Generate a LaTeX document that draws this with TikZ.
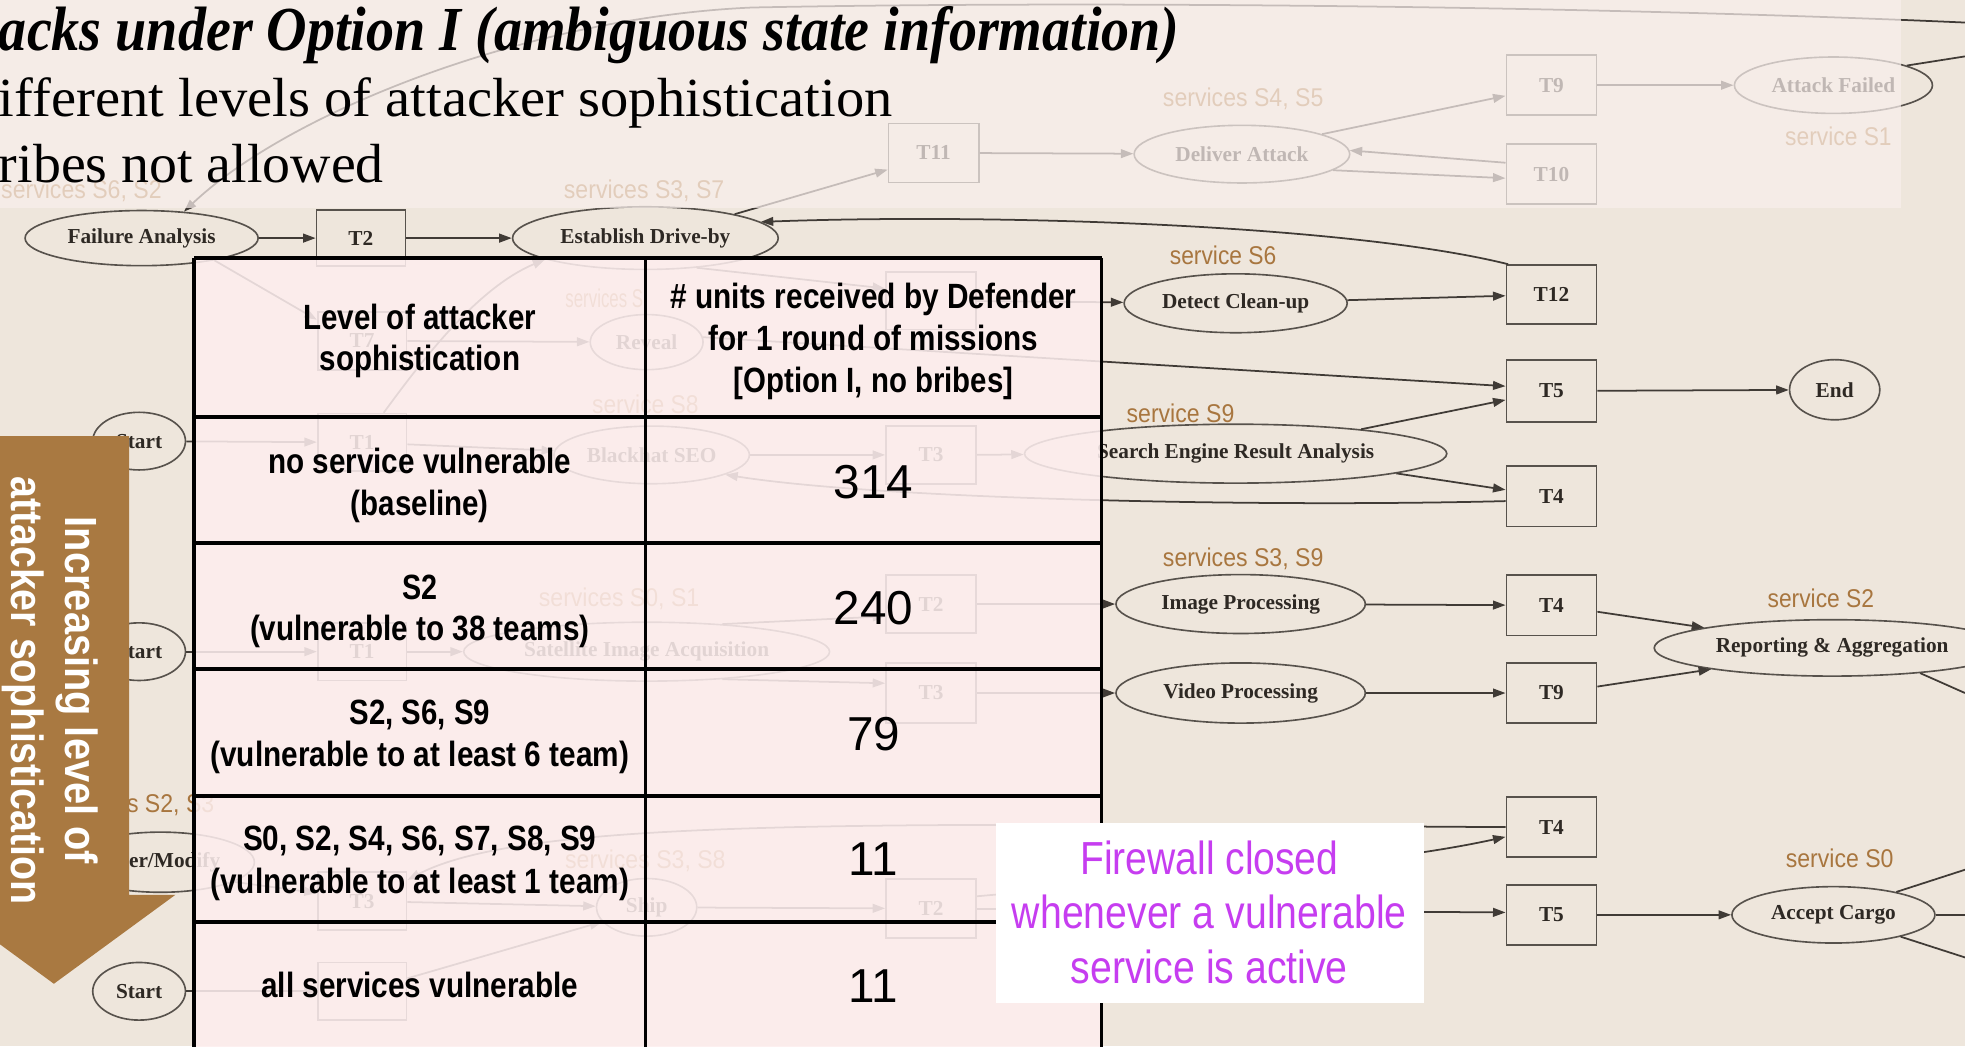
\documentclass[tikz,border=0pt]{standalone}
\usepackage{fontspec}
\usepackage{graphicx}
\setmainfont{Liberation Sans}
\newfontfamily\gserif{Liberation Serif}
\usetikzlibrary{shapes.geometric,arrows.meta}
\definecolor{bgbeige}{HTML}{EEE6DC}
\definecolor{toppink}{HTML}{F9EFEC}
\definecolor{cellpink}{HTML}{FDEEEE}
\definecolor{svcbrown}{HTML}{A8763F}
\definecolor{arrowbrown}{HTML}{A97941}
\definecolor{fwmag}{HTML}{C63DF0}
\definecolor{gline}{HTML}{403B36}
\definecolor{gborder}{HTML}{57524C}
\definecolor{gtext}{HTML}{2E2924}
\newcommand{\fw}[2]{\resizebox{#1pt}{\height}{#2}}
\tikzset{
 gn/.style={draw=gborder, line width=1.3pt, text=gtext, font=\gserif\bfseries\fontsize{17}{19}\selectfont, inner sep=0pt},
 ell/.style={gn, ellipse},
 tb/.style={gn, rectangle, minimum width=71pt, minimum height=47pt},
 ge/.style={draw=gline, line width=1.4pt, -{Triangle[length=10pt,width=7pt]}},
 gl/.style={draw=gline, line width=1.4pt},
 svc/.style={text=svcbrown, font=\fontsize{20.5}{22}\selectfont, inner sep=0pt, anchor=base},
 tabl/.style={font=\bfseries\fontsize{28}{32}\selectfont, inner sep=0pt, anchor=base},
 num/.style={font=\fontsize{38}{40}\selectfont, inner sep=0pt, anchor=base},
 fwt/.style={text=fwmag, font=\fontsize{37}{40}\selectfont, inner sep=0pt, anchor=base},
 ttl/.style={font=\gserif\fontsize{44}{48}\selectfont, inner sep=0pt, anchor=base west},
 arrtxt/.style={text=white, font=\bfseries\fontsize{36}{40}\selectfont, inner sep=0pt, anchor=base, rotate=-90},
 tabline/.style={line width=3pt, draw=black},
}
\begin{document}
\begin{tikzpicture}[x=1pt,y=-1pt]
\useasboundingbox (0,0) rectangle (1568,835);
\clip (0,0) rectangle (1568,835);
\fill[bgbeige] (0,0) rectangle (1568,835);

% ---------- background graph ----------
\node[ell, minimum width=186pt, minimum height=44pt] (fa) at (113,190) {Failure Analysis};
\node[tb, minimum height=45pt] (t2a) at (288,190) {T2};
\node[ell, minimum width=212pt, minimum height=50pt] (edb) at (515,190) {Establish Drive-by};
\node[tb, minimum width=72pt] (t11) at (745,122) {T11};
\node[ell, minimum width=172pt, minimum height=46pt] (da) at (991,123) {Deliver Attack};
\node[tb, minimum width=72pt, minimum height=48pt] (t9a) at (1238,68) {T9};
\node[tb, minimum width=72pt, minimum height=48pt] (t10) at (1238,139) {T10};
\node[ell, minimum width=158pt, minimum height=45pt] (af) at (1463,68) {Attack Failed};
\node[tb, minimum width=72pt] (t12) at (1238,235) {T12};
\node[ell, minimum width=178pt, minimum height=47pt] (dcu) at (986,242) {Detect Clean-up};
\node[tb, minimum width=72pt, minimum height=46pt] (t6) at (743,240) {};
\node[tb, minimum height=46pt] (t7) at (289,272) {T7};
\node[ell, minimum width=90pt, minimum height=44pt] (rev) at (516,273) {Reveal};
\node[tb, minimum width=72pt, minimum height=49pt] (t5a) at (1238,312) {T5};
\node[ell, minimum width=72pt, minimum height=48pt] (endn) at (1464,311) {End};
\node[ell, minimum width=74pt, minimum height=46pt] (st1) at (111,352) {Start};
\node[tb, minimum height=46pt] (t1a) at (289,353) {T1};
\node[ell, minimum width=156pt, minimum height=46pt] (bseo) at (520,363) {Blackhat SEO};
\node[tb, minimum width=72pt, minimum height=46pt] (t3a) at (743,363) {T3};
\node[ell, minimum width=337pt, minimum height=47pt] (sera) at (986,362) {Search Engine Result Analysis};
\node[tb, minimum width=72pt, minimum height=48pt] (t4a) at (1238,396) {T4};
\node[ell, minimum width=74pt, minimum height=46pt] (st2) at (111,520) {Start};
\node[tb, minimum height=46pt] (t1b) at (289,520) {T1};
\node[ell, minimum width=292pt, minimum height=47pt] (sia) at (516,520) {Satellite Image Acquisition};
\node[tb, minimum width=72pt, minimum height=46pt] (t2b) at (743,482) {T2};
\node[tb, minimum width=72pt, minimum height=48pt] (t3b) at (743,553) {T3};
\node[ell, minimum width=199pt, minimum height=47pt] (ip) at (990,482) {Image Processing};
\node[ell, minimum width=199pt, minimum height=48pt] (vp) at (990,553) {Video Processing};
\node[tb, minimum width=72pt, minimum height=48pt] (t4b) at (1238,483) {T4};
\node[tb, minimum width=72pt, minimum height=48pt] (t9b) at (1238,553) {T9};
\node[ell, minimum width=284pt, minimum height=45pt] (ra) at (1462,517) {Reporting \& Aggregation};
\node[ell, minimum width=150pt, minimum height=48pt] (am) at (128,688) {Alter/Modify};
\node[tb, minimum height=46pt] (t3c) at (289,719) {T3};
\node[ell, minimum width=80pt, minimum height=46pt] (ship) at (516,724) {Ship};
\node[tb, minimum width=72pt, minimum height=47pt] (t2c) at (743,725) {T2};
\node[tb, minimum width=72pt, minimum height=48pt] (t4c) at (1238,660) {T4};
\node[tb, minimum width=72pt, minimum height=48pt] (t5b) at (1238,730) {T5};
\node[ell, minimum width=162pt, minimum height=45pt] (ac) at (1463,730) {Accept Cargo};
\node[ell, minimum width=74pt, minimum height=46pt] (st3) at (111,791) {Start};
\node[tb, minimum height=46pt] (tx) at (289,791) {};

\coordinate (rtop) at (1568,18);
\coordinate (raf) at (1568,45);
\coordinate (rra) at (1568,553);
\coordinate (rac1) at (1568,694);
\coordinate (rac2) at (1568,730);
\coordinate (rac3) at (1568,764);

\draw[ge] (rtop) .. controls (1300,6) and (900,0) .. (600,6) .. controls (420,14) and (230,90) .. (fa.32);
\draw[ge] (fa) -- (t2a);
\draw[ge] (t2a) -- (edb);
\draw[ge] (edb.15) -- (t11.200);
\draw[ge] (t11) -- (da);
\draw[ge] (da.14) -- (t9a.193);
\draw[ge] (t10.166) -- (da.2);
\draw[ge] (da.-10) -- (t10.185);
\draw[ge] (t9a) -- (af);
\draw[gl] (af.15) -- (raf);
\draw[ge] (t12.145) .. controls (1080,180) and (800,170) .. (edb.8);
\draw[ge] (dcu) -- (t12);
\draw[ge] (t6) -- (dcu);
\draw[ge] (edb.-30) -- (t6.165);
\draw[ge] (fa.-17) -- (t7.155);
\draw[ge] (t7) -- (rev);
\draw[ge] (rev.5) -- (t5a.174);
\draw[ge] (st1) -- (t1a);
\draw[ge] (t1a) -- (bseo);
\draw[ge] (bseo) -- (t3a);
\draw[ge] (t3a) -- (sera);
\draw[ge] (sera.11) -- (t5a.191);
\draw[ge] (sera.-7) -- (t4a.172);
\draw[ge] (t4a.186) .. controls (1000,405) and (700,398) .. (bseo.-15);
\draw[ge] (t5a) -- (endn);
\draw[ge] (t1a.54) .. controls (335,290) and (380,230) .. (edb.192);
\draw[ge] (st2) -- (t1b);
\draw[ge] (t1b) -- (sia);
\draw[ge] (sia.20) -- (t2b.195);
\draw[ge] (sia.-20) -- (t3b.168);
\draw[ge] (t2b) -- (ip);
\draw[ge] (t3b) -- (vp);
\draw[ge] (ip) -- (t4b);
\draw[ge] (vp) -- (t9b);
\draw[ge] (t4b.-8) -- (ra.171);
\draw[ge] (t9b.8) -- (ra.190);
\draw[gl] (ra.-16) -- (rra);
\draw[ge] (am.-15) -- (t3c.170);
\draw[ge] (t3c) -- (ship);
\draw[ge] (ship) -- (t2c);
\draw[ge] (t2c) -- (t5b.177);
\draw[ge] (t2c.15) .. controls (950,700) and (1100,690) .. (t4c.192);
\draw[ge] (t4c.180) .. controls (700,657) and (420,652) .. (t3c.25);
\draw[ge] (t5b) -- (ac);
\draw[gl] (ac.20) -- (rac1);
\draw[gl] (ac.0) -- (rac2);
\draw[gl] (ac.-18) -- (rac3);
\draw[ge] (st3) -- (tx);
\draw[ge] (tx.16) -- (ship.198);

% service labels
\node[svc] (sv1) at (65,158) {\fw{128}{services S6, S2}};
\node[svc] (sv2) at (514,158) {\fw{128}{services S3, S7}};
\node[svc] (sv3) at (992,85) {\fw{128}{services S4, S5}};
\node[svc] (sv4) at (1467,116) {\fw{85}{service S1}};
\node[svc] (sv5) at (976,211) {\fw{85}{service S6}};
\node[svc, anchor=base west] (sv6) at (451,245) {\fw{62}{services S}};
\node[svc] (sv7) at (515,330) {\fw{85}{service S8}};
\node[svc] (sv8) at (942,337) {\fw{86}{service S9}};
\node[svc] (sv9) at (494,484) {\fw{128}{services S0, S1}};
\node[svc] (sv10) at (992,452) {\fw{128}{services S3, S9}};
\node[svc] (sv11) at (1453,485) {\fw{85}{service S2}};
\node[svc] (sv12) at (107,648) {\fw{128}{services S2, S3}};
\node[svc] (sv13) at (515,693) {\fw{128}{services S3, S8}};
\node[svc] (sv14) at (1468,692) {\fw{86}{service S0}};

% ---------- overlays ----------
\fill[toppink, opacity=0.72] (0,0) rectangle (1517,166);
\fill[cellpink, opacity=0.87] (155,206) rectangle (879,850);

% table grid
\draw[tabline] (155,206) -- (879,206);
\draw[tabline] (155,206) -- (155,850);
\draw[tabline] (515,206) -- (515,850);
\draw[tabline] (879,206) -- (879,850);
\draw[tabline] (155,333) -- (879,333);
\draw[tabline] (155,433) -- (879,433);
\draw[tabline] (155,534) -- (879,534);
\draw[tabline] (155,635) -- (879,635);
\draw[tabline] (155,736) -- (879,736);

% table text
\node[tabl] (hl1) at (335,263) {\fw{186}{Level of attacker}};
\node[tabl] (hl2) at (335,296) {\fw{160}{sophistication}};
\node[tabl] (hr1) at (697,246) {\fw{324}{\# units received by Defender}};
\node[tabl] (hr2) at (697,280) {\fw{263}{for 1 round of missions}};
\node[tabl] (hr3) at (697,313) {\fw{223}{[Option I, no bribes]}};
\node[tabl] (r1a) at (335,378) {\fw{242}{no service vulnerable}};
\node[tabl] (r1b) at (335,411) {\fw{110}{(baseline)}};
\node[tabl] (r2a) at (335,478) {\fw{28}{S2}};
\node[tabl] (r2b) at (335,511) {\fw{271}{(vulnerable to 38 teams)}};
\node[tabl] (r3a) at (335,578) {\fw{112}{S2, S6, S9}};
\node[tabl] (r3b) at (335,612) {\fw{334}{(vulnerable to at least 6 team)}};
\node[tabl] (r4a) at (335,679) {\fw{282}{S0, S2, S4, S6, S7, S8, S9}};
\node[tabl] (r4b) at (335,713) {\fw{334}{(vulnerable to at least 1 team)}};
\node[tabl] (r5) at (335,796) {\fw{253}{all services vulnerable}};
\node[num] (n1) at (697,398) {314};
\node[num] (n2) at (697,498) {240};
\node[num] (n3) at (697,599) {79};
\node[num] (n4) at (697,699) {11};
\node[num] (n5) at (697,800) {11};

% orange arrow
\fill[arrowbrown] (-20,348) -- (103,348) -- (103,714) -- (140,714) -- (43,785) -- (-54,714) -- (-20,714) -- cycle;
\node[arrtxt] (ar1) at (52,551) {\fw{277}{Increasing level of}};
\node[arrtxt] (ar2) at (9,551) {\fw{342}{attacker sophistication}};

% firewall note
\fill[white] (795,657) rectangle (1136,800);
\node[fwt] (fw1) at (965,698) {\fw{206}{Firewall closed}};
\node[fwt] (fw2) at (965,741) {\fw{315}{whenever a vulnerable}};
\node[fwt] (fw3) at (965,785) {\fw{221}{service is active}};

% title
\node[ttl, font=\gserif\bfseries\itshape\fontsize{50}{54}\selectfont] (ti1) at (-1,40) {\fw{942}{acks under Option I (ambiguous state information)}};
\node[ttl] (ti2) at (-1,93) {\fw{713}{ifferent levels of attacker sophistication}};
\node[ttl] (ti3) at (-1,146) {\fw{307}{ribes not allowed}};
\end{tikzpicture}
\end{document}
